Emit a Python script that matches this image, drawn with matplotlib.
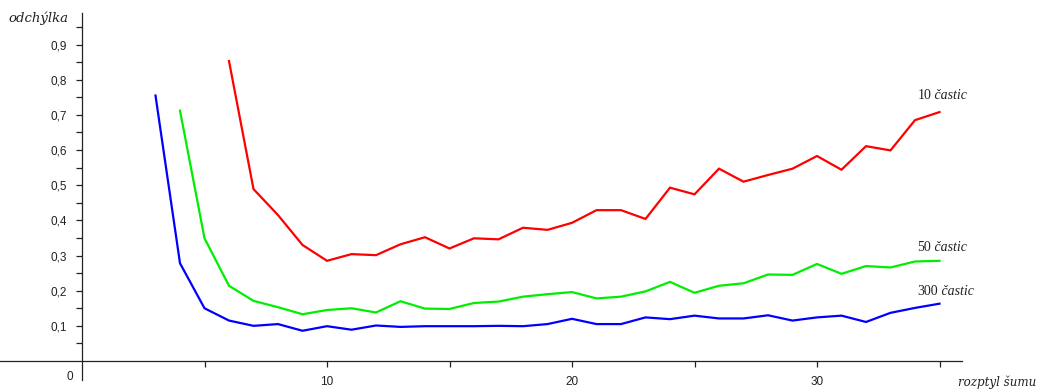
import matplotlib
matplotlib.use("Agg")
import matplotlib.pyplot as plt
from matplotlib.ticker import FixedLocator, FixedFormatter

# rozptyl šumu (osa x) a průměrná odchylka pro různé počty částic
sum_10 = list(range(6, 36))
odch_10 = [0.853, 0.489, 0.415, 0.330, 0.285, 0.304, 0.301, 0.332, 0.352, 0.320,
           0.349, 0.346, 0.379, 0.373, 0.393, 0.429, 0.429, 0.404, 0.493, 0.474,
           0.547, 0.510, 0.529, 0.547, 0.583, 0.544, 0.611, 0.599, 0.685, 0.708]

sum_50 = list(range(4, 36))
odch_50 = [0.712, 0.349, 0.214, 0.171, 0.153, 0.133, 0.145, 0.150, 0.138, 0.170,
           0.149, 0.148, 0.165, 0.169, 0.183, 0.190, 0.196, 0.178, 0.183, 0.198,
           0.225, 0.194, 0.214, 0.221, 0.246, 0.245, 0.276, 0.248, 0.270, 0.266,
           0.283, 0.285]

sum_300 = list(range(3, 36))
odch_300 = [0.755, 0.278, 0.150, 0.115, 0.100, 0.105, 0.086, 0.099, 0.089, 0.101,
            0.097, 0.099, 0.099, 0.099, 0.100, 0.099, 0.105, 0.120, 0.105, 0.105,
            0.124, 0.119, 0.129, 0.121, 0.121, 0.130, 0.115, 0.124, 0.129, 0.111,
            0.137, 0.151, 0.163]

x_ticks = [5, 10, 15, 20, 25, 30, 35]
x_labels = ["", "10", "", "20", "", "30", ""]
y_ticks = [0.1, 0.2, 0.3, 0.4, 0.5, 0.6, 0.7, 0.8, 0.9]
y_labels = ["0,1", "0,2", "0,3", "0,4", "0,5", "0,6", "0,7", "0,8", "0,9"]
y_minor = [0.05, 0.15, 0.25, 0.35, 0.45, 0.55, 0.65, 0.75, 0.85, 0.95]

fig = plt.figure(figsize=(10.46, 3.92), dpi=100)
ax = fig.add_axes([0, 0, 1, 1])
x0, x1 = -82 / 24.5, (1046 - 82) / 24.5
ax.set_xlim(x0, x1)
ax.set_ylim(-31 / 351.6, 361 / 351.6)

ax.plot(sum_10, odch_10, color="#ff0000", lw=1.6, solid_joinstyle="miter")
ax.plot(sum_50, odch_50, color="#00ee00", lw=1.6, solid_joinstyle="miter")
ax.plot(sum_300, odch_300, color="#0000ff", lw=1.6, solid_joinstyle="miter")

# osy procházejí počátkem
for side in ("top", "right"):
    ax.spines[side].set_visible(False)
ax.spines["left"].set_position(("data", 0))
ax.spines["bottom"].set_position(("data", 0))
ax.spines["left"].set_bounds(-0.055, 0.99)
ax.spines["bottom"].set_bounds(x0, 35.9)
for side in ("left", "bottom"):
    ax.spines[side].set_color("#222222")
    ax.spines[side].set_linewidth(0.9)

ax.xaxis.set_major_locator(FixedLocator(x_ticks))
ax.xaxis.set_major_formatter(FixedFormatter(x_labels))
ax.yaxis.set_major_locator(FixedLocator(y_ticks))
ax.yaxis.set_major_formatter(FixedFormatter(y_labels))
ax.yaxis.set_minor_locator(FixedLocator(y_minor))
ax.tick_params(axis="both", which="both", direction="out", length=4,
               width=0.9, color="#222222", labelcolor="#222222", pad=7,
               labelsize=8.5)
for lbl in ax.get_xticklabels() + ax.get_yticklabels():
    lbl.set_family("Liberation Sans")

ax.text(-0.35, -0.045, "0", ha="right", va="center", color="#222222",
        family="Liberation Sans", size=8.5)

ax.text(-3.0, 0.975, "odchýlka", ha="left", va="center", family="DejaVu Serif",
        style="italic", size=9.5, color="#222222")
ax.text(35.75, -0.06, "rozptyl šumu", ha="left", va="center", family="DejaVu Serif",
        style="italic", size=8.6, color="#222222")

serif = "Liberation Serif"
for x, y, n in [(34.1, 0.755, "10"), (34.1, 0.322, "50"), (34.1, 0.197, "300")]:
    ann = ax.annotate(n, (x, y), ha="left", va="center", family=serif,
                      size=10, color="#222222")
    ax.annotate(" častic", xycoords=ann, xy=(1, 0.5), ha="left", va="center",
                family=serif, style="italic", size=10, color="#222222")

fig.savefig("out.png", dpi=100, facecolor="white")
